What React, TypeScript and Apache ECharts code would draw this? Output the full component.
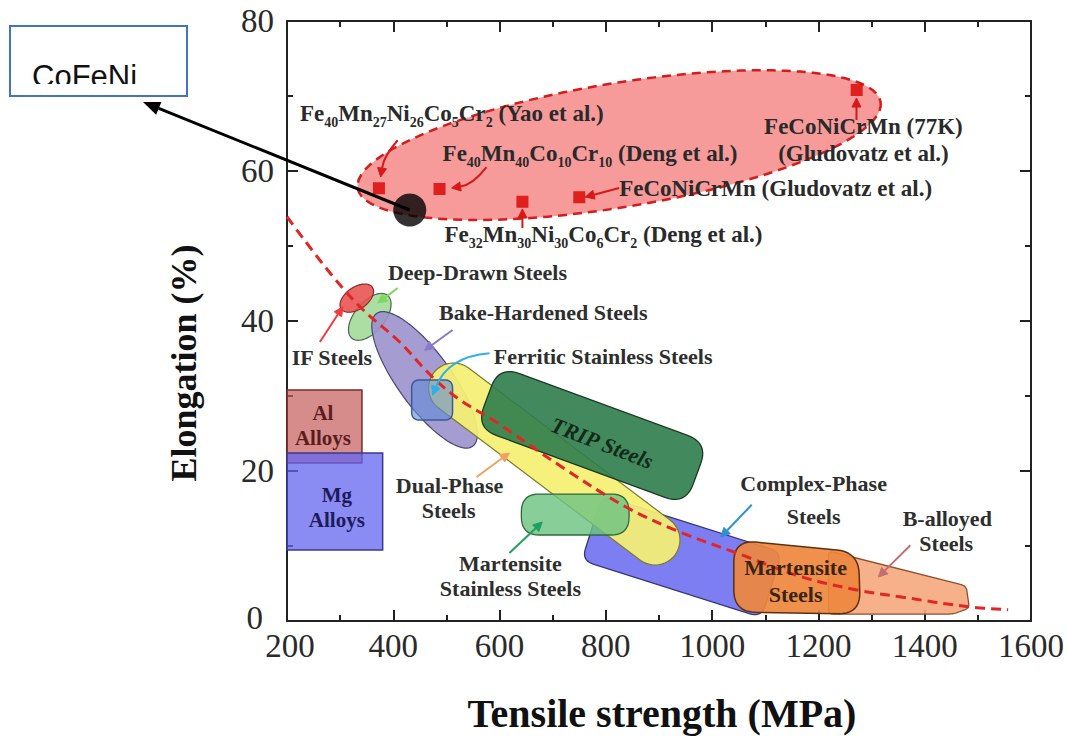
import React, { useEffect, useRef } from 'react';
import * as echarts from 'echarts';

const SERIF = '"Liberation Serif", "Times New Roman", Times, serif';
const SANS = '"Liberation Sans", Arial, sans-serif';

// ---------------- axes ----------------
const xTickValues = [200, 400, 600, 800, 1000, 1200, 1400, 1600];
const yTickValues = [0, 20, 40, 60, 80];

// ---------------- trend line (dashed) ----------------
const trendStrength = [200, 281, 343, 412, 474, 525, 594, 718, 838, 938, 1045, 1168, 1275, 1356, 1482, 1557];
const trendElongation = [53.9, 46.4, 41.5, 37.2, 32.5, 29.5, 26.5, 20.5, 15.2, 11.9, 9.1, 5.9, 4.1, 3.2, 1.9, 1.5];

// ---------------- high-entropy alloys ----------------
const heaNames = [
  'Fe40Mn27Ni26Co5Cr2 (Yao et al.)',
  'Fe40Mn40Co10Cr10 (Deng et al.)',
  'Fe32Mn30Ni30Co6Cr2 (Deng et al.)',
  'FeCoNiCrMn (Gludovatz et al.)',
  'FeCoNiCrMn 77K (Gludovatz et al.)',
];
const heaStrength = [373, 487, 643, 750, 1272];
const heaElongation = [57.7, 57.6, 55.9, 56.5, 70.8];

const cofeniStrength = [431];
const cofeniElongation = [54.8];

// ---------------- property regions (MPa, %) ----------------
const regionNames = [
  'High-entropy alloys', 'Al Alloys', 'Mg Alloys', 'B-alloyed Steels', 'Complex-Phase Steels',
  'Deep-Drawn Steels', 'Bake-Hardened Steels', 'Dual-Phase Steels', 'Ferritic Stainless Steels',
  'TRIP Steels', 'Martensite Stainless Steels', 'Martensite Steels', 'IF Steels',
];
const regionKinds = ['ellipse', 'poly', 'poly', 'poly', 'band', 'ellipse', 'ellipse', 'capsule', 'poly', 'band', 'poly', 'poly', 'ellipse'];
const regionStrength = [
  [333, 1317],
  [200, 341, 341, 200],
  [200, 380, 380, 200],
  [1219, 1478, 1484, 1454, 1219],
  [774, 1112],
  [322, 389.5],
  [368.5, 549.4],
  [513.4, 892.5],
  [434.6, 511.5, 511.5, 434.6],
  [577.2, 971.3],
  [641, 843.7, 843.7, 641],
  [1040.8, 1275.4, 1279, 1040.8],
  [302.1, 360.6],
];
const regionElongation = [
  [57.7, 69.2],
  [30.8, 30.8, 21.07, 21.07],
  [22.4, 22.4, 9.47, 9.47],
  [9.33, 4.67, 1.73, 0.93, 0.93],
  [12.4, 4.8],
  [37.7, 43.4],
  [41.0, 23.3],
  [31.07, 10.8],
  [32.13, 32.13, 26.8, 26.8],
  [29.87, 19.6],
  [16.93, 16.93, 11.47, 11.47],
  [10.8, 9.2, 0.93, 1.2],
  [41.6, 44.5],
];
// half thickness of ellipse / band regions, in % elongation
const regionHalfWidth = [8.27, 0, 0, 0, 4.53, 2.0, 3.6, 3.33, 0, 4.4, 0, 0, 1.47];

// ---------------- labels ----------------
const heaLabelText = [
  'Fe~40~Mn~27~Ni~26~Co~5~Cr~2~ (Yao et al.)',
  'Fe~40~Mn~40~Co~10~Cr~10~ (Deng et al.)',
  'FeCoNiCrMn (Gludovatz et al.)',
  'Fe~32~Mn~30~Ni~30~Co~6~Cr~2~ (Deng et al.)',
  'FeCoNiCrMn (77K)',
  '(Gludovatz et al.)',
];
const heaLabelStrength = [224.4, 492.8, 825, 496.5, 1284.7, 1284.7];
const heaLabelElongation = [67.7, 62.4, 57.73, 51.5, 65.9, 62.4];

const regionLabelText = [
  'Deep-Drawn Steels', 'IF Steels', 'Bake-Hardened Steels', 'Ferritic Stainless Steels',
  'Dual-Phase', 'Steels', 'Martensite', 'Stainless Steels', 'Complex-Phase', 'Steels',
  'B-alloyed', 'Steels', 'Martensite', 'Steels', 'Al', 'Alloys', 'Mg', 'Alloys', 'TRIP Steels',
];
const regionLabelStrength = [558.4, 284.5, 682.3, 794.9, 505.9, 504, 620.4, 620.4, 1190.9, 1190.9, 1442.4, 1440.5, 1157.1, 1157.1, 267.6, 267.6, 293.8, 293.8, 793];
const regionLabelElongation = [46.5, 35.2, 41.07, 35.33, 18.13, 14.8, 7.73, 4.4, 18.27, 14.0, 13.73, 10.4, 7.07, 3.47, 27.73, 24.4, 16.8, 13.47, 23.73];

// ---------------- pointer arrows (tail -> head) ----------------
const arrowTailStrength = [408.3, 575.3, 825, 643, 1271.6, 408.3, 261.9, 511.5, 581, 556.6, 618.5, 1074.5, 1372.9];
const arrowTailElongation = [64.1, 60.53, 57.73, 52.4, 66.8, 44.4, 37.2, 38.8, 35.7, 19.2, 9.07, 15.5, 10.1];
const arrowHeadStrength = [376.4, 509.7, 761.2, 643, 1271.6, 370.8, 305.1, 459, 474, 618.5, 680.4, 1016.4, 1312.9];
const arrowHeadElongation = [59.2, 57.73, 56.53, 54.93, 69.73, 42.4, 41.9, 36.1, 30.1, 22.4, 13.2, 11.2, 5.87];

// ---------------- styles ----------------
const regionStyle: Record<string, { fill: string; stroke: string; width: number; dash?: number[]; radius: number }> = {
  'High-entropy alloys': { fill: 'rgba(242,100,100,0.65)', stroke: '#d41c1c', width: 2.5, dash: [9, 6], radius: 0 },
  'Al Alloys': { fill: 'rgba(200,95,95,0.72)', stroke: '#7a2a2a', width: 1.5, radius: 0 },
  'Mg Alloys': { fill: 'rgba(100,100,240,0.75)', stroke: '#3a3a90', width: 1.5, radius: 0 },
  'B-alloyed Steels': { fill: 'rgba(246,168,125,0.9)', stroke: '#8a5030', width: 1.3, radius: 5 },
  'Complex-Phase Steels': { fill: 'rgba(112,112,242,0.9)', stroke: '#34347a', width: 1.3, radius: 12 },
  'Deep-Drawn Steels': { fill: 'rgba(165,218,155,0.92)', stroke: '#4a6a4a', width: 1.2, radius: 0 },
  'Bake-Hardened Steels': { fill: 'rgba(155,145,205,0.9)', stroke: '#4a4a70', width: 1.2, radius: 0 },
  'Dual-Phase Steels': { fill: 'rgba(245,240,115,0.93)', stroke: '#7a7a30', width: 1.2, radius: 0 },
  'Ferritic Stainless Steels': { fill: 'rgba(100,140,215,0.62)', stroke: '#3a5a9a', width: 1.5, radius: 8 },
  'TRIP Steels': { fill: 'rgba(45,125,75,0.9)', stroke: '#1c3a22', width: 1.3, radius: 22 },
  'Martensite Stainless Steels': { fill: 'rgba(110,195,130,0.82)', stroke: '#2e6a3a', width: 1.3, radius: 18 },
  'Martensite Steels': { fill: 'rgba(238,135,62,0.92)', stroke: '#5a3010', width: 1.5, radius: 22 },
  'IF Steels': { fill: 'rgba(232,80,80,0.88)', stroke: '#8a2a2a', width: 1.2, radius: 0 },
};
const arrowColors = ['#d81818', '#d81818', '#d81818', '#d81818', '#d81818', '#7ed860', '#f03c3c', '#8a78c8', '#30b0e8', '#f0a060', '#20a060', '#2f90d0', '#c07070'];
const arrowBend = [6, -8, 0, 0, 0, 0, 0, 0, 22, 0, 0, 0, 0];
const regionLabelColor = ['#2e2e2e', '#2e2e2e', '#2e2e2e', '#2e2e2e', '#2e2e2e', '#2e2e2e', '#2e2e2e', '#2e2e2e', '#2e2e2e', '#2e2e2e', '#2e2e2e', '#2e2e2e', '#3a2410', '#3a2410', '#5a1c1c', '#5a1c1c', '#1c1c5a', '#1c1c5a', '#142a18'];

// ---------------- geometry helpers (pixel space) ----------------
type P = number[];
function ellipsePts(a: P, b: P, h: number, n = 90): P[] {
  const cx = (a[0] + b[0]) / 2, cy = (a[1] + b[1]) / 2;
  const dx = b[0] - a[0], dy = b[1] - a[1];
  const len = Math.hypot(dx, dy);
  const ux = dx / len, uy = dy / len, vx = -uy, vy = ux, R = len / 2;
  const pts: P[] = [];
  for (let k = 0; k < n; k++) {
    const t = (2 * Math.PI * k) / n;
    const c = Math.cos(t), s = Math.sin(t);
    pts.push([cx + R * c * ux + h * s * vx, cy + R * c * uy + h * s * vy]);
  }
  return pts;
}
function capsulePts(a: P, b: P, h: number, n = 24): P[] {
  const base = Math.atan2(b[1] - a[1], b[0] - a[0]);
  const pts: P[] = [];
  for (let k = 0; k <= n; k++) {
    const t = base - Math.PI / 2 + (Math.PI * k) / n;
    pts.push([b[0] + h * Math.cos(t), b[1] + h * Math.sin(t)]);
  }
  for (let k = 0; k <= n; k++) {
    const t = base + Math.PI / 2 + (Math.PI * k) / n;
    pts.push([a[0] + h * Math.cos(t), a[1] + h * Math.sin(t)]);
  }
  return pts;
}
function bandCorners(a: P, b: P, h: number): P[] {
  const dx = b[0] - a[0], dy = b[1] - a[1];
  const len = Math.hypot(dx, dy);
  const nx = (-dy / len) * h, ny = (dx / len) * h;
  return [[a[0] - nx, a[1] - ny], [b[0] - nx, b[1] - ny], [b[0] + nx, b[1] + ny], [a[0] + nx, a[1] + ny]];
}
function roundPoly(pts: P[], r: number, seg = 10): P[] {
  if (r <= 0) return pts;
  const out: P[] = [];
  const n = pts.length;
  for (let i = 0; i < n; i++) {
    const p0 = pts[(i - 1 + n) % n], v = pts[i], p2 = pts[(i + 1) % n];
    const d1 = Math.hypot(p0[0] - v[0], p0[1] - v[1]);
    const d2 = Math.hypot(p2[0] - v[0], p2[1] - v[1]);
    const rr = Math.min(r, d1 / 2, d2 / 2);
    const a = [v[0] + ((p0[0] - v[0]) * rr) / d1, v[1] + ((p0[1] - v[1]) * rr) / d1];
    const b = [v[0] + ((p2[0] - v[0]) * rr) / d2, v[1] + ((p2[1] - v[1]) * rr) / d2];
    for (let k = 0; k <= seg; k++) {
      const t = k / seg, m = 1 - t;
      out.push([m * m * a[0] + 2 * m * t * v[0] + t * t * b[0], m * m * a[1] + 2 * m * t * v[1] + t * t * b[1]]);
    }
  }
  return out;
}
function richFromMarkup(s: string): string {
  return s
    .split('~')
    .map((part, k) => (part ? `{${k % 2 ? 's' : 'n'}|${part}}` : ''))
    .join('');
}

// ---------------- axes ----------------
function makeX(position: 'bottom' | 'top', labels: boolean) {
  return {
    type: 'value',
    position,
    min: xTickValues[0],
    max: xTickValues[xTickValues.length - 1],
    interval: xTickValues[1] - xTickValues[0],
    axisLine: { show: true, onZero: false, lineStyle: { color: '#222', width: 2 } },
    axisTick: { show: true, inside: true, length: 11, lineStyle: { color: '#222', width: 2 } },
    minorTick: { show: true, splitNumber: 2, length: 6, lineStyle: { color: '#222', width: 2 } },
    axisLabel: {
      show: labels, fontSize: 33, lineHeight: 24, fontFamily: SERIF, color: '#2a2a2a', margin: 13,
      showMinLabel: true, showMaxLabel: true,
      formatter: (v: number) => (v === xTickValues[0] ? `{f|${v}}` : String(v)),
      rich: { f: { fontSize: 33, lineHeight: 24, fontFamily: SERIF, color: '#2a2a2a', padding: [0, 0, 0, 6] } },
    },
    splitLine: { show: false },
    minorSplitLine: { show: false },
  };
}
function makeY(position: 'left' | 'right', labels: boolean) {
  return {
    type: 'value',
    position,
    min: yTickValues[0],
    max: yTickValues[yTickValues.length - 1],
    interval: yTickValues[1] - yTickValues[0],
    axisLine: { show: true, onZero: false, lineStyle: { color: '#222', width: 2 } },
    axisTick: { show: true, inside: true, length: 11, lineStyle: { color: '#222', width: 2 } },
    minorTick: { show: true, splitNumber: 2, length: 6, lineStyle: { color: '#222', width: 2 } },
    axisLabel: {
      show: labels, fontSize: 33, lineHeight: 22, fontFamily: SERIF, color: '#2a2a2a', margin: 13,
      showMinLabel: true, showMaxLabel: true,
      formatter: (v: number) => (v === yTickValues[0] ? `{z|${v}}` : String(v)),
      rich: { z: { fontSize: 33, lineHeight: 22, fontFamily: SERIF, color: '#2a2a2a', padding: [0, 11, 6, 0] } },
    },
    splitLine: { show: false },
    minorSplitLine: { show: false },
  };
}

function buildOption(): any {
  const regionSeries = {
    type: 'custom',
    name: 'regions',
    silent: true,
    z: 2,
    xAxisIndex: 0,
    yAxisIndex: 0,
    data: regionStrength.map((xs, i) => [xs[0], regionElongation[i][0]]),
    renderItem: (params: any, api: any) => {
      const i = params.dataIndex;
      const name = regionNames[i];
      const st = regionStyle[name];
      const px: P[] = regionStrength[i].map((x, k) => api.coord([x, regionElongation[i][k]]));
      const h = Math.abs(api.size([0, regionHalfWidth[i]])[1]);
      let pts: P[];
      const kind = regionKinds[i];
      if (kind === 'ellipse') pts = ellipsePts(px[0], px[1], h);
      else if (kind === 'capsule') pts = capsulePts(px[0], px[1], h);
      else if (kind === 'band') pts = roundPoly(bandCorners(px[0], px[1], h), st.radius);
      else pts = roundPoly(px, st.radius);
      return {
        type: 'polygon',
        shape: { points: pts },
        style: { fill: st.fill, stroke: st.stroke, lineWidth: st.width, lineDash: st.dash || null },
      };
    },
  };

  const trendSeries = {
    type: 'line',
    name: 'trend',
    z: 3,
    silent: true,
    smooth: 0.35,
    symbol: 'none',
    data: trendStrength.map((x, i) => [x, trendElongation[i]]),
    lineStyle: { color: '#e02626', width: 3, type: [10, 6] },
  };

  const arrowSeries = {
    type: 'custom',
    name: 'pointers',
    silent: true,
    z: 4,
    data: arrowHeadStrength.map((x, i) => [x, arrowHeadElongation[i]]),
    renderItem: (params: any, api: any) => {
      const i = params.dataIndex;
      const t = api.coord([arrowTailStrength[i], arrowTailElongation[i]]);
      const hd = api.coord([arrowHeadStrength[i], arrowHeadElongation[i]]);
      const dx = hd[0] - t[0], dy = hd[1] - t[1];
      const len = Math.hypot(dx, dy);
      const mx = (t[0] + hd[0]) / 2 + (-dy / len) * arrowBend[i];
      const my = (t[1] + hd[1]) / 2 + (dx / len) * arrowBend[i];
      const ax = hd[0] - mx, ay = hd[1] - my;
      const al = Math.hypot(ax, ay);
      const ux = ax / al, uy = ay / al;
      const L = 9, W = 4.5;
      const bx = hd[0] - ux * L, by = hd[1] - uy * L;
      const col = arrowColors[i];
      return {
        type: 'group',
        children: [
          {
            type: 'bezierCurve',
            shape: { x1: t[0], y1: t[1], x2: bx, y2: by, cpx1: mx, cpy1: my },
            style: { stroke: col, lineWidth: 2, fill: 'none' },
          },
          {
            type: 'polygon',
            shape: { points: [hd, [bx - uy * W, by + ux * W], [bx + uy * W, by - ux * W]] },
            style: { fill: col, stroke: col, lineWidth: 1 },
          },
        ],
      };
    },
  };

  const heaLabelAlign = ['left', 'left', 'left', 'left', 'center', 'center'];
  const heaLabelSeries = {
    type: 'custom',
    name: 'hea labels',
    silent: true,
    z: 5,
    data: heaLabelStrength.map((x, i) => [x, heaLabelElongation[i]]),
    renderItem: (params: any, api: any) => {
      const i = params.dataIndex;
      const p = api.coord([heaLabelStrength[i], heaLabelElongation[i]]);
      return {
        type: 'text',
        x: p[0],
        y: p[1],
        style: {
          text: richFromMarkup(heaLabelText[i]),
          fill: '#2a2a2a',
          align: heaLabelAlign[i],
          textAlign: heaLabelAlign[i],
          verticalAlign: 'middle',
          textVerticalAlign: 'middle',
          rich: {
            n: { fontSize: 23, fontWeight: 'bold', fontFamily: SERIF, fill: '#2a2a2a', lineHeight: 32, verticalAlign: 'middle' },
            s: { fontSize: 14, fontWeight: 'bold', fontFamily: SERIF, fill: '#2a2a2a', lineHeight: 14, verticalAlign: 'bottom' },
          },
        },
      };
    },
  };

  const regionLabelSeries = {
    type: 'custom',
    name: 'region labels',
    silent: true,
    z: 5,
    data: regionLabelStrength.map((x, i) => [x, regionLabelElongation[i]]),
    renderItem: (params: any, api: any) => {
      const i = params.dataIndex;
      const p = api.coord([regionLabelStrength[i], regionLabelElongation[i]]);
      const isTrip = regionLabelText[i] === 'TRIP Steels';
      const small = i >= 14 && i <= 17;
      return {
        type: 'text',
        x: p[0],
        y: p[1],
        rotation: isTrip ? (-21 * Math.PI) / 180 : 0,
        style: {
          text: regionLabelText[i],
          fill: regionLabelColor[i],
          fontSize: small ? 21 : 22,
          fontWeight: 'bold',
          fontStyle: isTrip ? 'italic' : 'normal',
          fontFamily: SERIF,
          align: 'center',
          textAlign: 'center',
          verticalAlign: 'middle',
          textVerticalAlign: 'middle',
        },
      };
    },
  };

  const heaSeries = {
    type: 'scatter',
    name: 'HEA',
    z: 6,
    symbol: 'rect',
    symbolSize: 12,
    itemStyle: { color: '#d90000' },
    data: heaStrength.map((x, i) => ({ name: heaNames[i], value: [x, heaElongation[i]] })),
  };
  const cofeniSeries = {
    type: 'scatter',
    name: 'CoFeNi',
    z: 7,
    symbol: 'circle',
    symbolSize: 33,
    itemStyle: { color: '#000' },
    data: cofeniStrength.map((x, i) => [x, cofeniElongation[i]]),
  };

  return {
    animation: false,
    backgroundColor: '#ffffff',
    grid: { left: 287, top: 21, width: 746, height: 600, containLabel: false },
    xAxis: [makeX('bottom', true), makeX('top', false)],
    yAxis: [makeY('left', true), makeY('right', false)],
    series: [regionSeries, trendSeries, arrowSeries, heaLabelSeries, regionLabelSeries, heaSeries, cofeniSeries],
  };
}

export default function App() {
  const ref = useRef<HTMLDivElement>(null);
  useEffect(() => {
    if (!ref.current) return;
    const chart = echarts.init(ref.current, undefined, { renderer: 'svg' });
    chart.setOption(buildOption());
    const start = chart.convertToPixel({ gridIndex: 0 } as any, [cofeniStrength[0], cofeniElongation[0]]) as number[];
    const tip = [143, 102];
    const ang = Math.atan2(tip[1] - start[1], tip[0] - start[0]);
    const ux = Math.cos(ang), uy = Math.sin(ang);
    const L = 17, W = 7;
    const bx = tip[0] - ux * L, by = tip[1] - uy * L;
    chart.setOption({
      graphic: [
        {
          type: 'text',
          x: 662,
          y: 713,
          style: { text: 'Tensile strength (MPa)', font: `bold 40px ${SERIF}`, fill: '#111', textAlign: 'center', textVerticalAlign: 'middle', align: 'center', verticalAlign: 'middle' },
        },
        {
          type: 'text',
          x: 184,
          y: 363,
          rotation: Math.PI / 2,
          style: { text: 'Elongation (%)', font: `bold 36px ${SERIF}`, fill: '#111', textAlign: 'center', textVerticalAlign: 'middle', align: 'center', verticalAlign: 'middle' },
        },
        {
          type: 'rect',
          shape: { x: 10, y: 26, width: 177, height: 70 },
          style: { fill: '#fff', stroke: '#4472c4', lineWidth: 2 },
          z: 10,
        },
        {
          type: 'text',
          x: 32,
          y: 76,
          z: 11,
          style: { text: 'CoFeNi', font: `31px ${SANS}`, fill: '#111', textAlign: 'left', textVerticalAlign: 'middle', align: 'left', verticalAlign: 'middle' },
        },
        {
          type: 'rect',
          shape: { x: 11, y: 84, width: 175, height: 11 },
          style: { fill: '#fff' },
          z: 12,
        },
        {
          type: 'line',
          shape: { x1: start[0], y1: start[1], x2: bx, y2: by },
          style: { stroke: '#000', lineWidth: 3 },
          z: 12,
        },
        {
          type: 'polygon',
          shape: { points: [tip, [bx - uy * W, by + ux * W], [bx + uy * W, by - ux * W]] },
          style: { fill: '#000' },
          z: 12,
        },
      ],
    });
    return () => chart.dispose();
  }, []);
  return (
    <div
      ref={ref}
      style={{ position: 'fixed', left: 0, top: 0, width: 1067, height: 736, background: '#fff' }}
    />
  );
}
